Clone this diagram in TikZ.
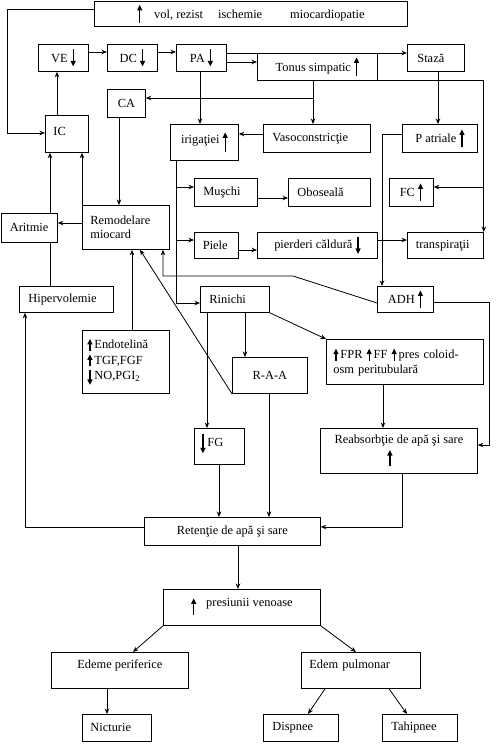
\documentclass[tikz,border=0pt]{standalone}
\usepackage{fontspec}
\setmainfont{Liberation Serif}
\usetikzlibrary{arrows.meta}
\newcommand{\ua}[2]{\tikz[baseline=0pt]\draw[line width=1.2pt,-{Triangle[length=5.5pt,width=5pt]}] (0,#1pt) -- (0,#2pt);}
\newcommand{\da}[2]{\tikz[baseline=0pt]\draw[line width=1.2pt,-{Triangle[length=5.5pt,width=5pt]}] (0,#2pt) -- (0,#1pt);}
\tikzset{
  box/.style={draw, line width=0.8pt, inner sep=0pt, anchor=north west, font=\fontsize{12.4}{14.5}\selectfont},
  lbox/.style={box, align=left},
  arr/.style={line width=0.8pt, -{Stealth[length=5.5pt,width=4.5pt]}},
  ln/.style={line width=0.8pt}
}
\begin{document}
\begin{tikzpicture}[x=1pt,y=-1pt]
\fill[white] (0,0) rectangle (503,753);
\useasboundingbox (0,0) rectangle (503,753);
% nodes
\node[box, minimum width=313pt, minimum height=25pt] (top) at (94,1) {\ua{-4}{14}\hspace{12pt}vol, rezist\hspace{15pt}ischemie\hspace{28pt}miocardiopatie};
\node[box, minimum width=50pt, minimum height=27pt] (VE) at (38,44) {VE \da{-4}{13}};
\node[box, minimum width=50pt, minimum height=27pt] (DC) at (107,44) {DC \da{-4}{13}};
\node[box, minimum width=50pt, minimum height=27pt] (PA) at (176,44) {PA \da{-4}{13}};
\node[box, minimum width=120pt, minimum height=27pt] (Tonus) at (257,53) {Tonus simpatic \ua{-5}{14}};
\node[lbox, minimum width=57pt, minimum height=27pt, text width=37pt] (Staza) at (407,44) {Stază};
\node[box, minimum width=38pt, minimum height=28pt] (CA) at (107,89) {CA};
\node[lbox, minimum width=43pt, text width=27pt, text height=20pt, text depth=17pt] (IC) at (45,115) {IC};
\node[box, minimum width=68pt, minimum height=36pt] (irig) at (170,124) {irigaţiei \ua{-9}{11}};
\node[lbox, minimum width=107pt, minimum height=28pt, text width=89pt] (Vaso) at (263,124) {Vasoconstricţie};
\node[box, minimum width=75pt, minimum height=28pt] (Patr) at (402,124) {P atriale \ua{-5}{13}};
\node[lbox, minimum width=63pt, minimum height=28pt, text width=45pt] (Muschi) at (194,178) {Muşchi};
\node[lbox, minimum width=82pt, minimum height=28pt, text width=64pt] (Obos) at (288,178) {Oboseală};
\node[box, minimum width=44pt, minimum height=28pt] (FC) at (389,178) {FC \ua{-5}{13}};
\node[lbox, minimum width=87pt, minimum height=44pt, text width=71pt] (Remod) at (82,205) {Remodelare\\miocard};
\node[box, minimum width=56.5pt, minimum height=29pt] (Arit) at (0.5,213) {Aritmie};
\node[lbox, minimum width=44pt, minimum height=26pt, text width=27pt] (Piele) at (194,232) {Piele};
\node[box, minimum width=120pt, minimum height=26pt] (pierd) at (257,232) {pierderi căldură \da{-5}{12}};
\node[lbox, minimum width=76pt, minimum height=26pt, text width=59pt] (transp) at (407,232) {transpiraţii};
\node[lbox, minimum width=94pt, minimum height=26pt, text width=76pt] (Hiper) at (19,286) {Hipervolemie};
\node[lbox, minimum width=69pt, minimum height=26pt, text width=51pt] (Rin) at (200,286) {Rinichi};
\node[box, minimum width=56pt, minimum height=26pt] (ADH) at (377,286) {ADH \ua{-5}{13}};
\node[lbox, minimum width=87pt, minimum height=63pt, text width=77pt, font=\fontsize{12.4}{15.5}\selectfont] (Endo) at (82,330) {\ua{-2}{10}\,Endotelină\\\ua{-2}{10}\,TGF,FGF\\\da{-5}{10}\,NO,PGI\textsubscript{2}};
\node[box, minimum width=75pt, minimum height=36pt] (RAA) at (232,357) {R-A-A};
\node[lbox, minimum width=157pt, minimum height=45pt, text width=143pt] (FPR) at (326,339) {\ua{-2}{10}\,FPR \ua{-2}{10}\,FF \ua{-2}{10}\,pres coloid-\\osm peritubulară};
\node[lbox, minimum width=50pt, text width=38pt, text height=18pt, text depth=18pt] (FG) at (194,428) {\da{-7}{12}\,FG};
\node[box, minimum width=157pt, minimum height=45pt, align=center] (Reabs) at (320,428) {Reabsorbţie de apă şi sare\\[2pt]\hspace*{-18pt}\ua{-4}{12}};
\node[box, minimum width=176pt, minimum height=28pt] (Ret) at (144,517) {Retenţie de apă şi sare};
\node[box, minimum width=157pt, text height=17pt, text depth=19pt] (pres) at (163,589) {\ua{-9}{8}\hspace{10pt}presiunii venoase};
\node[box, minimum width=137pt, text height=16pt, text depth=20pt] (EP) at (51,652) {Edeme periferice};
\node[lbox, minimum width=119pt, text width=103pt, text height=16pt, text depth=20pt] (EdP) at (301,652) {Edem pulmonar};
\node[lbox, minimum width=69pt, minimum height=27pt, text width=53pt] (Nict) at (82,714) {Nicturie};
\node[lbox, minimum width=75pt, minimum height=27pt, text width=57pt] (Disp) at (263,714) {Dispnee};
\node[lbox, minimum width=75pt, minimum height=27pt, text width=57pt] (Tahi) at (382,714) {Tahipnee};
% connectors
\draw[arr] (top.west |- 0,9) -- (7,9) -- (7,133) -- (IC.west |- 0,133);
\draw[arr] (VE.east |- 0,52) -- (DC.west |- 0,52);
\draw[arr] (DC.east |- 0,52) -- (PA.west |- 0,52);
\draw[arr] (PA.east |- 0,53) -- (Staza.west |- 0,53);
\draw[arr] (PA.east |- 0,62) -- (Tonus.west |- 0,62);
\draw[arr] (Tonus.south east) -- (transp.north east |- Tonus.south) -- (transp.north east);
\draw[arr] (transp.north east |- 0,187) -- (FC.east |- 0,187);
\draw[arr] (Tonus.south -| 313,0) -- (Vaso.north -| 313,0);
\draw[arr] (313,98) -- (CA.east |- 0,98);
\draw[arr] (PA.south -| 200,0) -- (irig.north -| 200,0);
\draw[arr] (Staza.south -| 438,0) -- (Patr.north -| 438,0);
\draw[arr] (IC.north -| 57,0) -- (VE.south -| 57,0);
\draw[arr] (Vaso.west |- 0,134) -- (irig.east |- 0,134);
\draw[arr] (Patr.west |- 0,134) -- (382,134) -- (ADH.north -| 382,0);
\draw[arr] (irig.south -| 176,0) -- (176,303) -- (Rin.west |- 0,303);
\draw[arr] (176,187) -- (Muschi.west |- 0,187);
\draw[arr] (176,240) -- (Piele.west |- 0,240);
\draw[arr] (Muschi.east |- 0,198) -- (Obos.west |- 0,198);
\draw[arr] (Piele.east |- 0,250) -- (pierd.west |- 0,250);
\draw[arr] (pierd.east |- 0,240) -- (transp.west |- 0,240);
\draw[arr] (CA.south -| 119,0) -- (Remod.north -| 119,0);
\draw[arr] (Remod.west |- 0,223) -- (Arit.east |- 0,223);
\draw[arr] (Arit.north -| 50,0) -- (IC.south -| 50,0);
\draw[arr] (Remod.north west) -- (IC.south -| 82,0);
\draw[ln] (Hiper.north -| 50,0) -- (Arit.south -| 50,0);
\draw[arr] (Ret.west |- 0,527) -- (25,527) -- (Hiper.south -| 25,0);
\draw[arr] (Endo.north -| 132,0) -- (Remod.south -| 132,0);
\draw[arr] (RAA.south west) -- (Remod.south -| 140,0);
\draw[arr] (ADH.west |- 0,303) -- (293,276) -- (163,276) -- (Remod.south -| 163,0);
\draw[arr] (Rin.south -| 245,0) -- (RAA.north -| 245,0);
\draw[arr] (Rin.south east) -- (FPR.north west);
\draw[arr] (Rin.south -| 207,0) -- (FG.north -| 207,0);
\draw[arr] (RAA.south -| 269,0) -- (Ret.north -| 269,0);
\draw[arr] (FPR.south -| 383,0) -- (Reabs.north -| 383,0);
\draw[arr] (ADH.east |- 0,302) -- (489,302) -- (489,445) -- (Reabs.east |- 0,445);
\draw[arr] (FG.south -| 219,0) -- (Ret.north -| 219,0);
\draw[arr] (Reabs.south -| 402,0) -- (402,527) -- (Ret.east |- 0,527);
\draw[arr] (Ret.south -| 238,0) -- (pres.north -| 238,0);
\draw[arr] (pres.south west) -- (EP.north -| 133,0);
\draw[arr] (pres.south east) -- (EdP.north -| 356,0);
\draw[arr] (EP.south -| 107,0) -- (Nict.north -| 107,0);
\draw[arr] (EdP.south -| 325,0) -- (Disp.north -| 308,0);
\draw[arr] (EdP.south -| 389,0) -- (Tahi.north -| 407,0);
\end{tikzpicture}
\end{document}
